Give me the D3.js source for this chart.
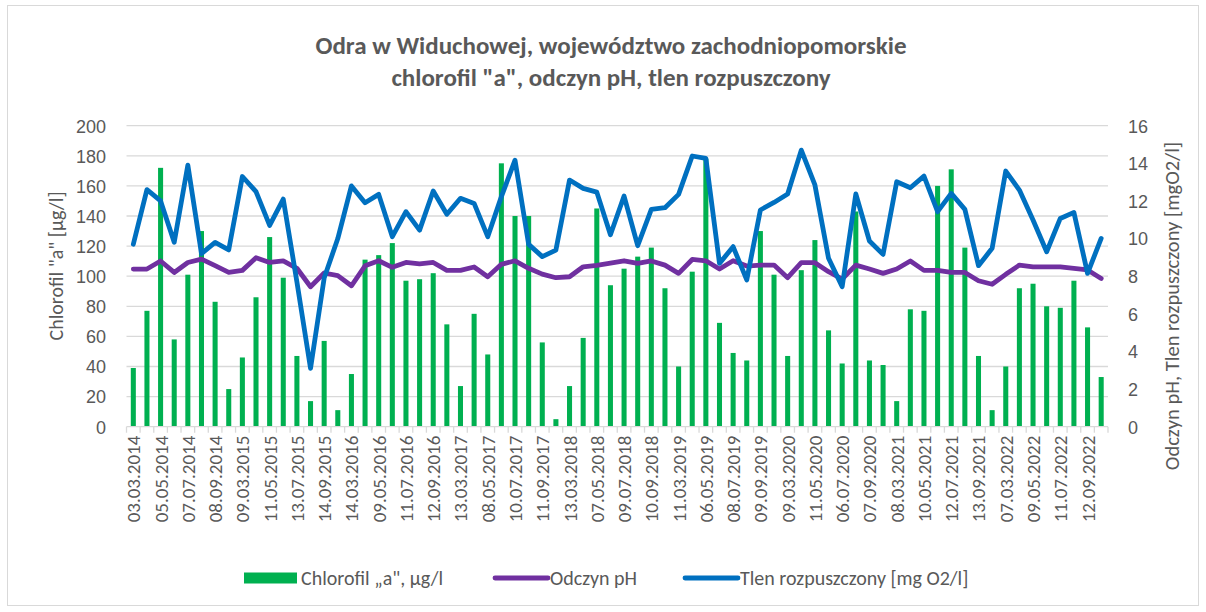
<!DOCTYPE html>
<html>
<head>
<meta charset="utf-8">
<script src="https://cdn.jsdelivr.net/npm/d3@7"></script>
<style>
  html, body { margin: 0; padding: 0; background: #ffffff; }
  svg { display: block; font-family: Carlito, Lato, "Open Sans", sans-serif; }
</style>
</head>
<body>
<svg id="chart" width="1206" height="612"></svg>
<script>
// Tick labels of the category axis (every second sampling date is labelled)
const tickLabels = [
  "03.03.2014","05.05.2014","07.07.2014","08.09.2014",
  "09.03.2015","11.05.2015","13.07.2015","14.09.2015",
  "14.03.2016","09.05.2016","11.07.2016","12.09.2016",
  "13.03.2017","08.05.2017","10.07.2017","11.09.2017",
  "13.03.2018","07.05.2018","09.07.2018","10.09.2018",
  "11.03.2019","06.05.2019","08.07.2019","09.09.2019",
  "09.03.2020","11.05.2020","06.07.2020","07.09.2020",
  "08.03.2021","10.05.2021","12.07.2021","13.09.2021",
  "07.03.2022","09.05.2022","11.07.2022","12.09.2022"
];

// Chlorofil „a" [µg/l], one value per sampling (March–October, 2014–2022)
const chlorophyll = [
  39, 77, 172, 58, 101, 130, 83, 25,
  46, 86, 126, 99, 47, 17, 57, 11,
  35, 111, 114, 122, 97, 98, 102, 68,
  27, 75, 48, 175, 140, 140, 56, 5,
  27, 59, 145, 94, 105, 113, 119, 92,
  40, 103, 178, 69, 49, 44, 130, 101,
  47, 104, 124, 64, 42, 143, 44, 41,
  17, 78, 77, 160, 171, 119, 47, 11,
  40, 92, 95, 80, 79, 97, 66, 33
];

// Odczyn pH
const ph = [
  8.38, 8.38, 8.81, 8.20, 8.73, 8.91, 8.56, 8.20,
  8.31, 8.98, 8.73, 8.81, 8.42, 7.44, 8.17, 8.03,
  7.49, 8.55, 8.82, 8.47, 8.73, 8.65, 8.73, 8.31,
  8.31, 8.49, 7.97, 8.63, 8.82, 8.42, 8.11, 7.92,
  7.97, 8.50, 8.58, 8.70, 8.82, 8.68, 8.81, 8.59,
  8.15, 8.89, 8.82, 8.38, 8.82, 8.54, 8.59, 8.59,
  7.92, 8.72, 8.72, 8.24, 7.85, 8.59, 8.38, 8.15,
  8.38, 8.81, 8.31, 8.31, 8.20, 8.20, 7.76, 7.57,
  8.10, 8.59, 8.50, 8.50, 8.50, 8.42, 8.33, 7.88
];

// Tlen rozpuszczony [mg O2/l]
const oxygen = [
  9.70, 12.60, 12.00, 9.80, 13.90, 9.20, 9.80, 9.40,
  13.30, 12.50, 10.70, 12.10, 7.70, 3.10, 7.90, 10.00,
  12.80, 11.90, 12.35, 10.10, 11.43, 10.45, 12.53, 11.29,
  12.14, 11.87, 10.10, 12.23, 14.17, 9.69, 9.04, 9.39,
  13.11, 12.67, 12.47, 10.20, 12.26, 9.62, 11.55, 11.64,
  12.35, 14.39, 14.26, 8.68, 9.57, 7.80, 11.52, 11.92,
  12.37, 14.70, 12.85, 8.95, 7.44, 12.37, 9.87, 9.16,
  13.02, 12.70, 13.32, 11.43, 12.40, 11.55, 8.56, 9.48,
  13.59, 12.58, 10.99, 9.30, 11.07, 11.39, 8.15, 10.01
];

const leftTicks = [0, 20, 40, 60, 80, 100, 120, 140, 160, 180, 200];
const rightTicks = [0, 2, 4, 6, 8, 10, 12, 14, 16];

const titleLines = [
  "Odra w Widuchowej, województwo zachodniopomorskie",
  "chlorofil \"a\", odczyn pH, tlen rozpuszczony"
];

const legendItems = [
  { label: "Chlorofil „a\", µg/l", type: "bar", color: "#00B050" },
  { label: "Odczyn pH", type: "line", color: "#7030A0" },
  { label: "Tlen rozpuszczony [mg O2/l]", type: "line", color: "#0070C0" }
];

const textColor = "#595959";
const gridColor = "#d9d9d9";

const svg = d3.select("#chart");

// chart area border
svg.append("rect")
  .attr("x", 7.5).attr("y", 5.5)
  .attr("width", 1191).attr("height", 600)
  .attr("fill", "#fff").attr("stroke", gridColor).attr("stroke-width", 1);

const plot = { left: 126.5, right: 1108, top: 125.7, bottom: 426.7 };

const idx = d3.range(chlorophyll.length);
const x = d3.scaleBand().domain(idx).range([plot.left, plot.right]).paddingInner(0).paddingOuter(0);
const yL = d3.scaleLinear().domain([0, 200]).range([plot.bottom, plot.top]);
const yR = d3.scaleLinear().domain([0, 16]).range([plot.bottom, plot.top]);
const cx = i => x(i) + x.bandwidth() / 2;

// horizontal gridlines
svg.append("g")
  .selectAll("line").data(leftTicks.filter(t => t > 0)).join("line")
  .attr("x1", plot.left).attr("x2", plot.right)
  .attr("y1", d => yL(d)).attr("y2", d => yL(d))
  .attr("stroke", gridColor).attr("stroke-width", 1.3);

// bars
const barW = x.bandwidth() * 0.37;
svg.append("g")
  .selectAll("rect").data(chlorophyll).join("rect")
  .attr("x", (d, i) => cx(i) - barW / 2)
  .attr("width", barW)
  .attr("y", d => yL(d))
  .attr("height", d => yL(0) - yL(d))
  .attr("fill", "#00B050");

// category axis with boundary ticks
const xAxis = svg.append("g");
xAxis.append("line")
  .attr("x1", plot.left).attr("x2", plot.right)
  .attr("y1", plot.bottom).attr("y2", plot.bottom)
  .attr("stroke", gridColor).attr("stroke-width", 1.3);
xAxis.selectAll("line.tick").data(d3.range(chlorophyll.length + 1)).join("line")
  .attr("class", "tick")
  .attr("x1", i => plot.left + i * x.step()).attr("x2", i => plot.left + i * x.step())
  .attr("y1", plot.bottom).attr("y2", plot.bottom + 6)
  .attr("stroke", gridColor).attr("stroke-width", 1.3);

xAxis.selectAll("text").data(tickLabels).join("text")
  .attr("transform", (d, k) => `translate(${cx(k * 2) + 7},${plot.bottom + 9}) rotate(-90)`)
  .attr("text-anchor", "end")
  .attr("fill", textColor)
  .attr("font-size", 19)
  .text(d => d);

// left value axis
const leftAxis = d3.axisLeft(yL).tickValues(leftTicks).tickSize(0).tickPadding(0);
svg.append("g").attr("transform", `translate(106,0)`).call(leftAxis)
  .call(g => g.select(".domain").remove())
  .call(g => g.selectAll("text").attr("fill", textColor).attr("font-size", 18)
    .attr("font-family", null).attr("dy", "0.35em"));

// right value axis
const rightAxis = d3.axisRight(yR).tickValues(rightTicks).tickSize(0).tickPadding(0);
svg.append("g").attr("transform", `translate(1128,0)`).call(rightAxis)
  .call(g => g.select(".domain").remove())
  .call(g => g.selectAll("text").attr("fill", textColor).attr("font-size", 18)
    .attr("font-family", null).attr("dy", "0.35em"));

// axis titles
svg.append("text")
  .attr("transform", "translate(63,266) rotate(-90)")
  .attr("text-anchor", "middle").attr("fill", textColor).attr("font-size", 20)
  .text("Chlorofil \"a\" [µg/l]");
svg.append("text")
  .attr("transform", "translate(1179,306) rotate(-90)")
  .attr("text-anchor", "middle").attr("fill", textColor).attr("font-size", 20.5)
  .text("Odczyn pH, Tlen rozpuszczony [mgO2/l]");

// lines
const lineGen = scale => d3.line().x((d, i) => cx(i)).y(d => scale(d));
svg.append("path").datum(ph)
  .attr("d", lineGen(yR))
  .attr("fill", "none").attr("stroke", "#7030A0").attr("stroke-width", 4.8)
  .attr("stroke-linejoin", "round").attr("stroke-linecap", "round");
svg.append("path").datum(oxygen)
  .attr("d", lineGen(yR))
  .attr("fill", "none").attr("stroke", "#0070C0").attr("stroke-width", 4.8)
  .attr("stroke-linejoin", "round").attr("stroke-linecap", "round");

// title
const title = svg.append("g").attr("fill", textColor).attr("font-weight", "bold")
  .attr("text-anchor", "middle");
title.selectAll("text").data(titleLines).join("text")
  .attr("x", 611).attr("y", (d, i) => 54 + i * 32)
  .attr("font-size", 25)
  .text(d => d);

// legend
const legendX = [244, 493, 683];
const legendY = 578;
const lg = svg.append("g");
legendItems.forEach((item, k) => {
  const g = lg.append("g").attr("transform", `translate(${legendX[k]},${legendY})`);
  if (item.type === "bar") {
    g.append("rect").attr("x", 0).attr("y", -5.5).attr("width", 53).attr("height", 11)
      .attr("fill", item.color);
  } else {
    g.append("line").attr("x1", 2).attr("x2", 55).attr("y1", 0).attr("y2", 0)
      .attr("stroke", item.color).attr("stroke-width", 4.8).attr("stroke-linecap", "round");
  }
  g.append("text").attr("x", 57).attr("y", 0).attr("dy", "0.35em")
    .attr("fill", textColor).attr("font-size", 20).text(item.label);
});
</script>
</body>
</html>
